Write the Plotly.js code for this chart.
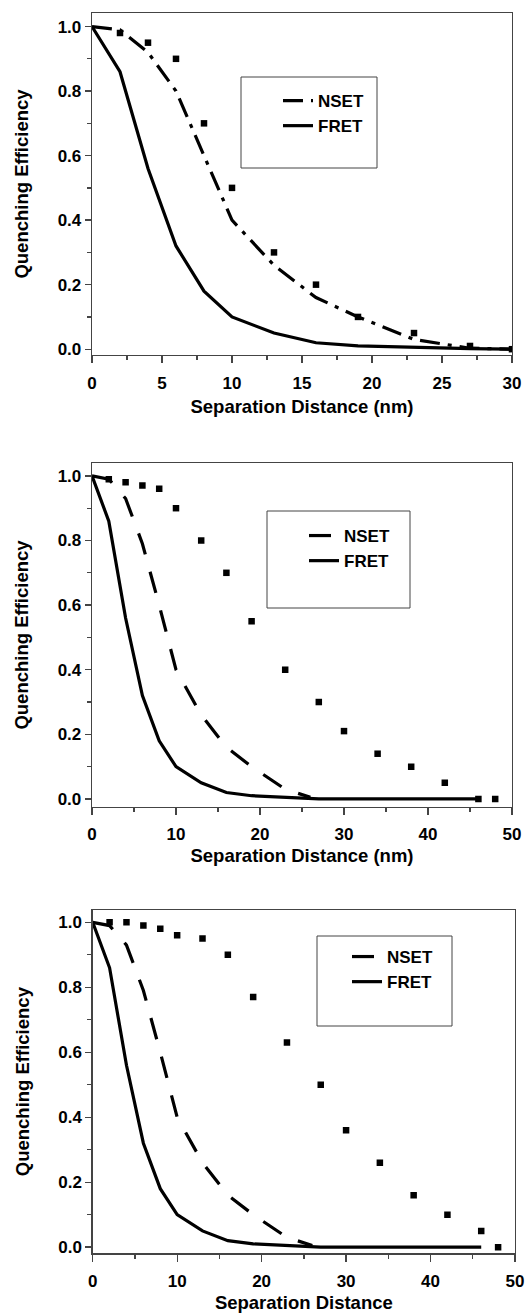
<!DOCTYPE html>
<html>
<head>
<meta charset="utf-8">
<script src="https://cdn.plot.ly/plotly-3.0.1.min.js"></script>
<style>html,body{margin:0;padding:0;background:#fff;}#chart{width:525px;height:1313px;}</style>
</head>
<body>
<div id="chart"></div>
<script>
// ---- Panel 1 data (0-30 nm) ----
const p1_fret_x = [0, 2, 4, 6, 8, 10, 13, 16, 19, 23, 27, 30];
const p1_fret_y = [1.0, 0.86, 0.56, 0.32, 0.18, 0.10, 0.05, 0.02, 0.01, 0.005, 0.002, 0.0];
const p1_nset_x = [0, 2, 4, 6, 8, 10, 13, 16, 19, 23, 27, 30];
const p1_nset_y = [1.0, 0.99, 0.92, 0.80, 0.60, 0.40, 0.26, 0.16, 0.10, 0.03, 0.003, 0.0];
const p1_pts_x = [2, 4, 6, 8, 10, 13, 16, 19, 23, 27, 30];
const p1_pts_y = [0.98, 0.95, 0.90, 0.70, 0.50, 0.30, 0.20, 0.10, 0.05, 0.01, 0.0];

// ---- Panel 2 data (0-50 nm) ----
const p2_fret_x = [0, 2, 4, 6, 8, 10, 13, 16, 19, 23, 27, 30, 46];
const p2_fret_y = [1.0, 0.86, 0.56, 0.32, 0.18, 0.10, 0.05, 0.02, 0.01, 0.005, 0.0, 0.0, 0.0];
const p2_nset_x = [0, 2, 4, 6, 8, 10, 13, 16, 19, 23, 26];
const p2_nset_y = [1.0, 0.99, 0.93, 0.79, 0.60, 0.40, 0.26, 0.16, 0.10, 0.03, 0.005];
const p2_pts_x = [2, 4, 6, 8, 10, 13, 16, 19, 23, 27, 30, 34, 38, 42, 46, 48];
const p2_pts_y = [0.99, 0.98, 0.97, 0.96, 0.90, 0.80, 0.70, 0.55, 0.40, 0.30, 0.21, 0.14, 0.10, 0.05, 0.0, 0.0];

// ---- Panel 3 data (0-50) ----
const p3_fret_x = [0, 2, 4, 6, 8, 10, 13, 16, 19, 23, 27, 30, 46];
const p3_fret_y = [1.0, 0.86, 0.56, 0.32, 0.18, 0.10, 0.05, 0.02, 0.01, 0.005, 0.0, 0.0, 0.0];
const p3_nset_x = [0, 2, 4, 6, 8, 10, 13, 16, 19, 23, 26];
const p3_nset_y = [1.0, 0.99, 0.93, 0.79, 0.60, 0.40, 0.26, 0.16, 0.10, 0.03, 0.005];
const p3_pts_x = [2, 4, 6, 8, 10, 13, 16, 19, 23, 27, 30, 34, 38, 42, 46, 48];
const p3_pts_y = [1.0, 1.0, 0.99, 0.98, 0.96, 0.95, 0.90, 0.77, 0.63, 0.50, 0.36, 0.26, 0.16, 0.10, 0.05, 0.0];

const seriesNames = ["NSET", "FRET"];
const xTitles = ["Separation Distance (nm)", "Separation Distance (nm)", "Separation Distance"];
const yTitle = "Quenching Efficiency";

const W = 525, H = 1313;
const FONT = "Liberation Sans, Arial, Helvetica, sans-serif";
const px = v => v / W;
const py = v => 1 - v / H;

function lineTrace(x, y, name, dash, xa, ya, leg) {
  return {x: x, y: y, name: name, type: 'scatter', mode: 'lines',
    line: {color: '#000', width: 3.2, dash: dash},
    xaxis: xa, yaxis: ya, legend: leg, hoverinfo: 'skip'};
}
function ptsTrace(x, y, xa, ya) {
  return {x: x, y: y, type: 'scatter', mode: 'markers', showlegend: false,
    marker: {symbol: 'square', size: 6.5, color: '#000'},
    xaxis: xa, yaxis: ya, hoverinfo: 'skip'};
}

const dashDot = "20px,8px,4px,8px";
const dashLong = "22px,18px";

const traces = [
  lineTrace(p1_nset_x, p1_nset_y, seriesNames[0], dashDot, 'x', 'y', 'legend'),
  lineTrace(p1_fret_x, p1_fret_y, seriesNames[1], 'solid', 'x', 'y', 'legend'),
  ptsTrace(p1_pts_x, p1_pts_y, 'x', 'y'),
  lineTrace(p2_nset_x, p2_nset_y, seriesNames[0], dashLong, 'x2', 'y2', 'legend2'),
  lineTrace(p2_fret_x, p2_fret_y, seriesNames[1], 'solid', 'x2', 'y2', 'legend2'),
  ptsTrace(p2_pts_x, p2_pts_y, 'x2', 'y2'),
  lineTrace(p3_nset_x, p3_nset_y, seriesNames[0], dashLong, 'x3', 'y3', 'legend3'),
  lineTrace(p3_fret_x, p3_fret_y, seriesNames[1], 'solid', 'x3', 'y3', 'legend3'),
  ptsTrace(p3_pts_x, p3_pts_y, 'x3', 'y3'),
];

const tickFont = {family: FONT, size: 17, color: '#000', weight: 'bold'};
const titleFont = {family: FONT, size: 18.5, color: '#000', weight: 'bold'};

function xaxis(domain, range, dtick, minor, anchor, title, standoff) {
  return {domain: domain, range: range, anchor: anchor, dtick: dtick, tick0: 0,
    showgrid: false, zeroline: false, showline: true, linecolor: '#444', linewidth: 1.3, mirror: true,
    ticks: 'outside', ticklen: 7, tickwidth: 1.3, tickcolor: '#444', ticklabelstandoff: 5,
    minor: {dtick: minor, ticks: 'outside', ticklen: 4, tickwidth: 1.3, tickcolor: '#444', showgrid: false},
    tickfont: tickFont, title: {text: title, font: titleFont, standoff: standoff}, fixedrange: true};
}
function yaxis(domain, range, anchor) {
  return {domain: domain, range: range, anchor: anchor, dtick: 0.2, tick0: 0, tickformat: '.1f',
    showgrid: false, zeroline: false, showline: true, linecolor: '#444', linewidth: 1.3, mirror: true,
    ticks: 'outside', ticklen: 6, tickwidth: 1.3, tickcolor: '#444',
    minor: {dtick: 0.1, ticks: 'outside', ticklen: 4, tickwidth: 1.3, tickcolor: '#444', showgrid: false},
    tickfont: tickFont, title: {text: yTitle, font: titleFont, standoff: 24}, fixedrange: true};
}

function legendAt(xText, yTop) {
  return {x: px(xText), xanchor: 'left', y: py(yTop), yanchor: 'top',
    bgcolor: 'rgba(0,0,0,0)', borderwidth: 0, font: {family: FONT, size: 17, color: '#000', weight: 'bold'},
    tracegroupgap: 0};
}
function box(x0, y0, x1, y1) {
  return {type: 'rect', xref: 'paper', yref: 'paper', x0: px(x0), x1: px(x1), y0: py(y1), y1: py(y0),
    line: {color: '#444', width: 1}, fillcolor: 'rgba(0,0,0,0)', layer: 'above'};
}

const layout = {
  width: W, height: H, margin: {l: 0, r: 0, t: 0, b: 0},
  paper_bgcolor: '#fff', plot_bgcolor: '#fff', showlegend: true,
  xaxis: xaxis([px(92), px(512)], [0, 30], 5, 2.5, 'y', xTitles[0], 8),
  yaxis: yaxis([1 - 355 / H, 1 - 13 / H], [-0.018, 1.042], 'x'),
  xaxis2: xaxis([px(92), px(512)], [0, 50], 10, 5, 'y2', xTitles[1], 5),
  yaxis2: yaxis([1 - 806.7 / H, 1 - 463.3 / H], [-0.024, 1.039], 'x2'),
  xaxis3: xaxis([px(92.7), px(515)], [0, 50], 10, 5, 'y3', xTitles[2], 10),
  yaxis3: yaxis([1 - 1253.3 / H, 1 - 910 / H], [-0.019, 1.038], 'x3'),
  legend: legendAt(278, 83),
  legend2: legendAt(304, 518),
  legend3: legendAt(347, 939),
  shapes: [box(241, 77, 377, 168), box(267, 511, 410, 608), box(317, 936, 452, 1026)]
};

Plotly.newPlot('chart', traces, layout, {staticPlot: true, displayModeBar: false});
</script>
</body>
</html>
